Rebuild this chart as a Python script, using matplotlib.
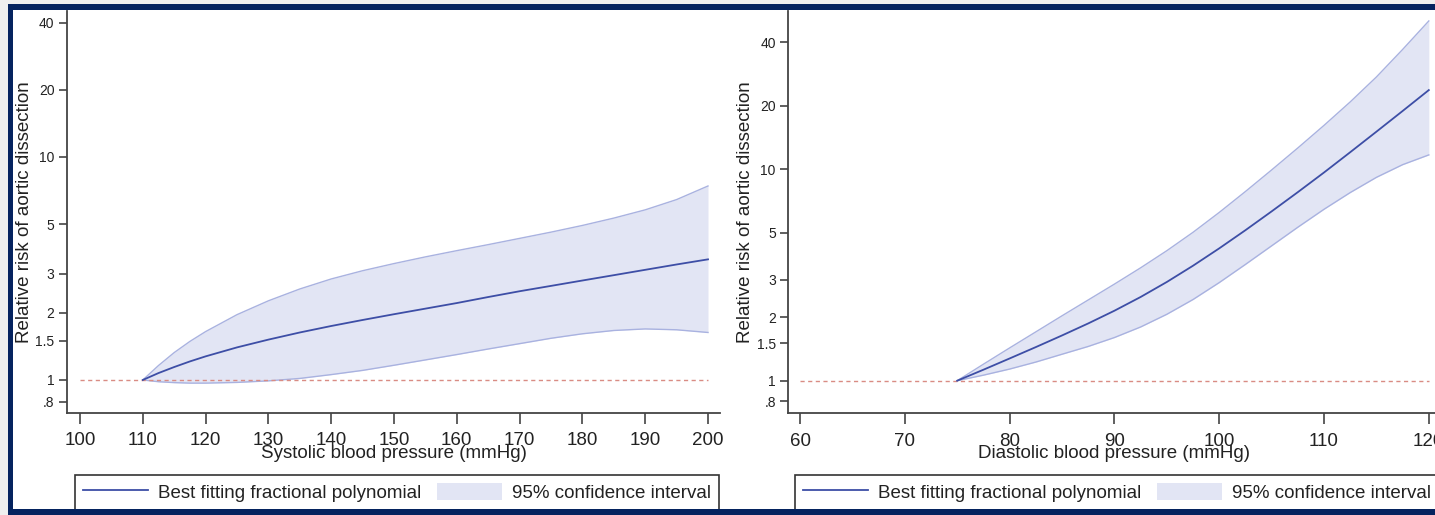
import matplotlib
matplotlib.use("Agg")
import matplotlib.pyplot as plt
from matplotlib.patches import Rectangle, Patch
from matplotlib.lines import Line2D

# ---------------- data ----------------
sbp_x = [110, 112.5, 115, 117.5, 120, 125, 130, 135, 140, 145, 150,
         155, 160, 165, 170, 175, 180, 185, 190, 195, 200]
sbp_rr = [1.0, 1.074, 1.143, 1.211, 1.276, 1.400, 1.517, 1.633, 1.746, 1.858, 1.972,
          2.089, 2.213, 2.355, 2.500, 2.642, 2.793, 2.951, 3.119, 3.296, 3.475]
sbp_upper = [1.0, 1.161, 1.327, 1.489, 1.648, 1.963, 2.265, 2.559, 2.838, 3.090, 3.327,
             3.565, 3.802, 4.046, 4.315, 4.603, 4.932, 5.321, 5.794, 6.442, 7.413]
sbp_lower = [1.0, 0.982, 0.973, 0.968, 0.968, 0.975, 0.991, 1.016, 1.057, 1.104, 1.164,
             1.230, 1.300, 1.377, 1.455, 1.538, 1.611, 1.667, 1.694, 1.679, 1.633]

dbp_x = [75, 77.5, 80, 82.5, 85, 87.5, 90, 92.5, 95, 97.5, 100,
         102.5, 105, 107.5, 110, 112.5, 115, 117.5, 120]
dbp_rr = [1.0, 1.127, 1.274, 1.442, 1.637, 1.866, 2.143, 2.489, 2.931, 3.499, 4.227,
          5.152, 6.324, 7.798, 9.661, 12.05, 15.07, 18.88, 23.71]
dbp_upper = [1.0, 1.197, 1.429, 1.702, 2.028, 2.410, 2.864, 3.420, 4.121, 5.035, 6.252,
             7.852, 9.931, 12.62, 16.14, 20.84, 27.35, 36.90, 50.35]
dbp_lower = [1.0, 1.062, 1.135, 1.225, 1.334, 1.452, 1.600, 1.795, 2.061, 2.421, 2.911,
             3.548, 4.345, 5.321, 6.471, 7.762, 9.162, 10.52, 11.70]

y_ticks = [0.8, 1, 1.5, 2, 3, 5, 10, 20, 40]
y_ticklabels = [".8", "1", "1.5", "2", "3", "5", "10", "20", "40"]
sbp_xticks = list(range(100, 201, 10))
dbp_xticks = list(range(60, 121, 10))

ylabel = "Relative risk of aortic dissection"
sbp_xlabel = "Systolic blood pressure (mmHg)"
dbp_xlabel = "Diastolic blood pressure (mmHg)"
legend_labels = ["Best fitting fractional polynomial", "95% confidence interval"]

# ---------------- style ----------------
plt.rcParams['font.family'] = ['Liberation Sans', 'DejaVu Sans']
W, H = 1435, 515
LINE_C = '#3d4ea6'
FILL_C = '#e2e5f4'
EDGE_C = '#a9b2e0'
REF_C = '#d98c84'
AX_C = '#444444'
TXT_C = '#222222'
NAVY = '#05235f'


def fx(px):
    return px / W


def fy(py):
    return 1 - py / H


fig = plt.figure(figsize=(W / 100, H / 100), dpi=100)
fig.patch.set_facecolor('white')


def setup(ax, x, rr, lo, hi, xticks, xlabel, xlim, ylim, ref_span):
    ax.set_yscale('log')
    ax.fill_between(x, lo, hi, color=FILL_C, lw=0, zorder=1)
    ax.plot(x, hi, color=EDGE_C, lw=1.0, zorder=2)
    ax.plot(x, lo, color=EDGE_C, lw=1.0, zorder=2)
    ax.plot(x, rr, color=LINE_C, lw=1.3, zorder=3)
    ax.hlines(1, ref_span[0], ref_span[1], colors=REF_C, linestyles=(0, (3, 2.5)),
              lw=1.0, zorder=2)
    ax.set_xlim(*xlim)
    ax.set_ylim(*ylim)
    ax.set_yticks(y_ticks)
    ax.set_yticklabels(y_ticklabels)
    ax.yaxis.set_minor_locator(matplotlib.ticker.NullLocator())
    ax.set_xticks(xticks)
    for s in ['top', 'right']:
        ax.spines[s].set_visible(False)
    for s in ['left', 'bottom']:
        ax.spines[s].set_color(AX_C)
        ax.spines[s].set_linewidth(1.3)
    ax.tick_params(axis='x', length=8, width=1.2, color=AX_C, pad=6,
                   labelsize=13.5, labelcolor=TXT_C)
    ax.tick_params(axis='y', length=6, width=1.2, color=AX_C, pad=3,
                   labelsize=10, labelcolor=TXT_C)
    ax.set_ylabel(ylabel, fontsize=13.5, color=TXT_C)
    ax.set_xlabel(xlabel, fontsize=13.5, color=TXT_C)
    ax.set_facecolor('white')


# left panel
axL = fig.add_axes([fx(67), fy(413), (720 - 67) / W, (413 - 10.7) / H])
setup(axL, sbp_x, sbp_rr, sbp_lower, sbp_upper, sbp_xticks, sbp_xlabel,
      (97.93, 201.91), (0.711, 45.3), (100, 200))
axL.yaxis.set_label_coords((33 - 67) / 653, 0.5)
axL.xaxis.set_label_coords(0.5, (413 - 445) / 402.3)

# right panel
axR = fig.add_axes([fx(788.3), fy(413.3), (1439.5 - 788.3) / W, (413.3 - 10.7) / H])
setup(axR, dbp_x, dbp_rr, dbp_lower, dbp_upper, dbp_xticks, dbp_xlabel,
      (58.88, 121.02), (0.701, 56.3), (60, 120))
axR.yaxis.set_label_coords((754 - 788.3) / 651.2, 0.5)
axR.xaxis.set_label_coords(0.5, (413.3 - 445) / 402.6)


# legends
def add_legend(px_left):
    handles = [Line2D([], [], color=LINE_C, lw=1.3),
               Patch(facecolor=FILL_C, edgecolor='none')]
    leg = fig.legend(handles, legend_labels, loc='upper left',
                     bbox_to_anchor=(fx(px_left), fy(475)),
                     bbox_transform=fig.transFigure,
                     ncol=2, frameon=True, fancybox=False, framealpha=1,
                     edgecolor='#333333', borderpad=0.42, borderaxespad=0,
                     handlelength=3.45, handleheight=1.05, handletextpad=0.55,
                     columnspacing=0.85, fontsize=13.5)
    leg.get_frame().set_linewidth(1.2)
    for t in leg.get_texts():
        t.set_color(TXT_C)
    leg.set_zorder(6)
    return leg


add_legend(75)
add_legend(795)


# outer frame (gray margin + navy border)
def rect(x0, y0, x1, y1, color):
    fig.add_artist(Rectangle((fx(x0), fy(y1)), fx(x1) - fx(x0), fy(y0) - fy(y1),
                             transform=fig.transFigure, facecolor=color,
                             edgecolor='none', zorder=10))


rect(0, 0, 8, H, '#efefef')
rect(0, 0, W, 4, '#efefef')
rect(8, 4, 13, H, NAVY)
rect(8, 4, W, 10, NAVY)
rect(8, 509, W, H, NAVY)

fig.savefig('out.png', dpi=100)
